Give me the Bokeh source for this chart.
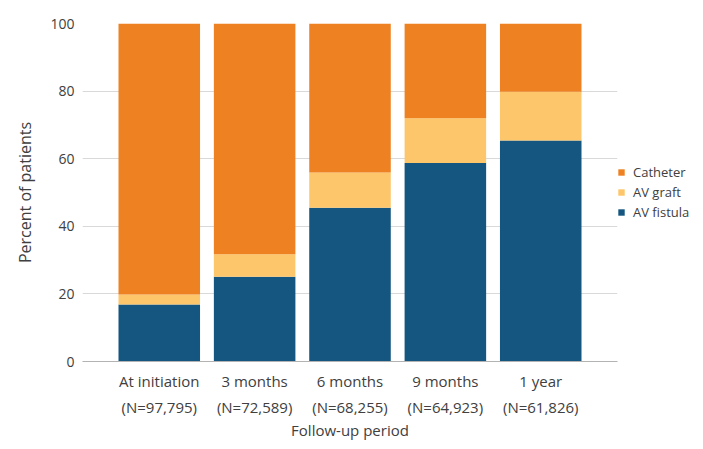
from bokeh.plotting import figure
from bokeh.models import ColumnDataSource, FactorRange, CategoricalAxis, Legend, LegendItem, FixedTicker
from bokeh.embed import file_html
from bokeh.resources import INLINE

periods = ["At initiation", "3 months", "6 months", "9 months", "1 year"]
n_labels = ["(N=97,795)", "(N=72,589)", "(N=68,255)", "(N=64,923)", "(N=61,826)"]
av_fistula = [16.9, 25.1, 45.5, 58.7, 65.4]
av_graft = [2.9, 6.6, 10.4, 13.3, 14.4]
catheter = [round(100 - f - g, 1) for f, g in zip(av_fistula, av_graft)]
series = ["av_fistula", "av_graft", "catheter"]
series_names = ["AV fistula", "AV graft", "Catheter"]
colors = ["#14567F", "#FEC66A", "#EE8222"]

FONT = "Open Sans"
TXT = "#404040"

src = ColumnDataSource(dict(period=periods, av_fistula=av_fistula, av_graft=av_graft, catheter=catheter))

p = figure(frame_width=535, frame_height=338, output_backend="svg", toolbar_location=None,
           x_range=FactorRange(factors=periods, range_padding=0.305, range_padding_units="absolute"),
           y_range=(0, 100),
           min_border_left=82, min_border_right=70, min_border_top=23, min_border_bottom=80)
p.extra_x_ranges = {"n": FactorRange(factors=n_labels, range_padding=0.305, range_padding_units="absolute")}
p.outline_line_color = None
p.background_fill_color = "white"
p.border_fill_color = "white"

rs = p.vbar_stack(series, x="period", width=0.855, source=src, color=colors, line_color=None)

# y axis
p.yaxis.ticker = FixedTicker(ticks=[0, 20, 40, 60, 80, 100])
p.yaxis.axis_line_color = None
p.yaxis.major_tick_line_color = None
p.yaxis.minor_tick_line_color = None
p.yaxis.major_tick_out = 0
p.yaxis.major_tick_in = 0
p.yaxis.major_label_standoff = 8
p.yaxis.major_label_text_font = FONT
p.yaxis.major_label_text_font_size = "14px"
p.yaxis.major_label_text_color = TXT
p.yaxis.axis_label = "Percent of patients"
p.yaxis.axis_label_text_font = FONT
p.yaxis.axis_label_text_font_size = "16px"
p.yaxis.axis_label_text_font_style = "normal"
p.yaxis.axis_label_text_color = TXT
p.yaxis.axis_label_standoff = 11

p.ygrid.grid_line_color = "#d9d9d9"
p.xgrid.grid_line_color = None

# x axis line 1
xa = p.xaxis[0]
xa.axis_line_color = "#b3b3b3"
xa.major_tick_line_color = None
xa.minor_tick_line_color = None
xa.major_tick_out = 0
xa.major_tick_in = 0
xa.major_label_standoff = 9
xa.major_label_text_font = FONT
xa.major_label_text_font_size = "15px"
xa.major_label_text_color = TXT

# x axis line 2 (N counts) + title
xa2 = CategoricalAxis(x_range_name="n")
xa2.axis_line_color = None
xa2.major_tick_line_color = None
xa2.minor_tick_line_color = None
xa2.major_tick_out = 0
xa2.major_tick_in = 0
xa2.major_label_standoff = 3
xa2.major_label_text_font = FONT
xa2.major_label_text_font_size = "15px"
xa2.major_label_text_color = TXT
xa2.axis_label = "Follow-up period"
xa2.axis_label_text_font = FONT
xa2.axis_label_text_font_size = "15px"
xa2.axis_label_text_font_style = "normal"
xa2.axis_label_text_color = TXT
xa2.axis_label_standoff = 0
p.add_layout(xa2, "below")

items = [LegendItem(label=series_names[i], renderers=[rs[i]]) for i in [2, 1, 0]]
legend = Legend(items=items, location="center_left", orientation="vertical",
                padding=0, margin=0, spacing=2,
                glyph_width=8, glyph_height=8, label_standoff=8,
                label_text_font=FONT, label_text_font_size="13px", label_text_color=TXT,
                border_line_color=None, background_fill_alpha=0)
p.add_layout(legend, "right")

open("out.html", "w").write(file_html(p, INLINE))
